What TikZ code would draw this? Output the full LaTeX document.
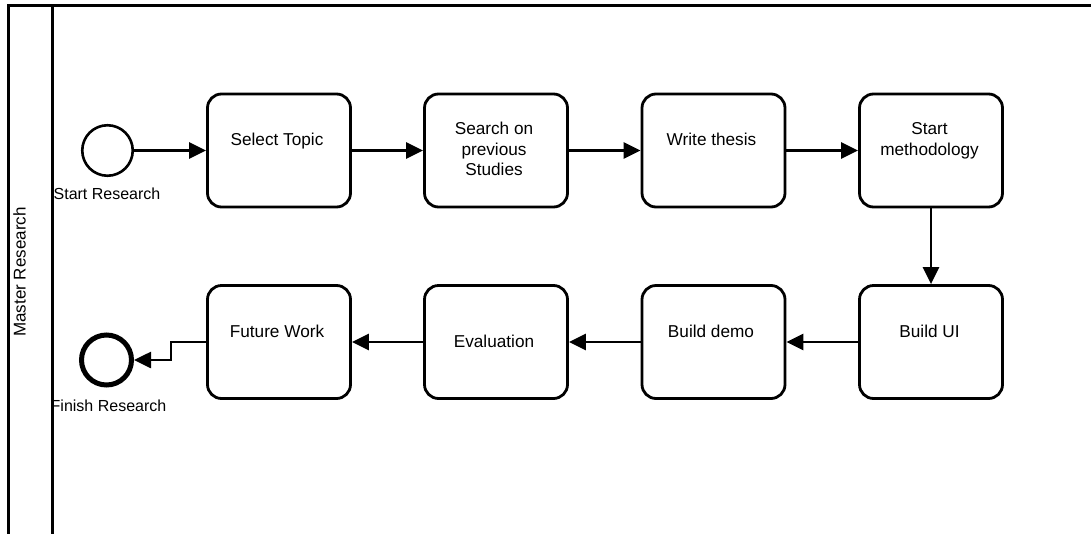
\documentclass[tikz,border=0pt]{standalone}
\usepackage{fontspec}
\setmainfont{Liberation Sans}
\usetikzlibrary{arrows.meta}
\begin{document}
\begin{tikzpicture}[x=1pt,y=-1pt,
  task/.style={draw=black, line width=2.8pt, rounded corners=14pt, minimum width=143pt, minimum height=113pt, inner sep=0pt},
  tasktext/.style={anchor=north, inner sep=0pt, align=center, font=\fontsize{17.2}{20.5}\selectfont},
  evtext/.style={anchor=north, inner sep=0pt, font=\fontsize{16}{19}\selectfont},
  flow/.style={draw=black, line width=2.6pt, -{Triangle[length=17pt,width=16pt]}},
  startev/.style={draw=black, circle, line width=2.6pt, minimum size=50.5pt, inner sep=0pt},
  endev/.style={draw=black, circle, line width=5pt, minimum size=50pt, inner sep=0pt},
  frame/.style={draw=black, line width=3pt}
]
\useasboundingbox (0,0) rectangle (1091,533);
\clip (0,0) rectangle (1091,533);
% pool frame
\draw[frame] (8.5,5.5) rectangle (1110,560);
\draw[frame] (52,5.5) -- (52,560);
\node[anchor=north, rotate=90, inner sep=0pt, font=\fontsize{17}{20}\selectfont] (lane) at (13,272) {Master Research};

% events
\node[startev] (start) at (107.5,150.5) {};
\node[evtext] (startlbl) at (107,188) {Start Research};
\node[endev] (finish) at (106.5,360) {};
\node[evtext] (finishlbl) at (108.5,400) {Finish Research};

% tasks row 1
\node[task] (b1) at (279,150.5) {};
\node[task] (b2) at (496,150.5) {};
\node[task] (b3) at (713.5,150.5) {};
\node[task] (b4) at (931,150.5) {};
% tasks row 2
\node[task] (b5) at (279,342) {};
\node[task] (b6) at (496,342) {};
\node[task] (b7) at (713.5,342) {};
\node[task] (b8) at (931,342) {};

% labels
\node[tasktext] (l1) at (277,133) {Select Topic};
\node[tasktext] (l2) at (494,122) {Search on\\previous\\Studies};
\node[tasktext] (l3) at (711.5,133) {Write thesis};
\node[tasktext] (l4) at (929.5,122.5) {Start\\methodology};
\node[tasktext] (l5) at (277,324.5) {Future Work};
\node[tasktext] (l6) at (494,335) {Evaluation};
\node[tasktext] (l7) at (711,324.5) {Build demo};
\node[tasktext] (l8) at (929.5,325) {Build UI};

% flows
\draw[flow] (start) -- (b1);
\draw[flow] (b1) -- (b2);
\draw[flow] (b2) -- (b3);
\draw[flow] (b3) -- (b4);
\draw[flow] (b4) -- (b8);
\draw[flow] (b8) -- (b7);
\draw[flow] (b7) -- (b6);
\draw[flow] (b6) -- (b5);
\draw[flow] (b5.west) -- ++(-35,0) |- (finish.east);
\end{tikzpicture}
\end{document}
